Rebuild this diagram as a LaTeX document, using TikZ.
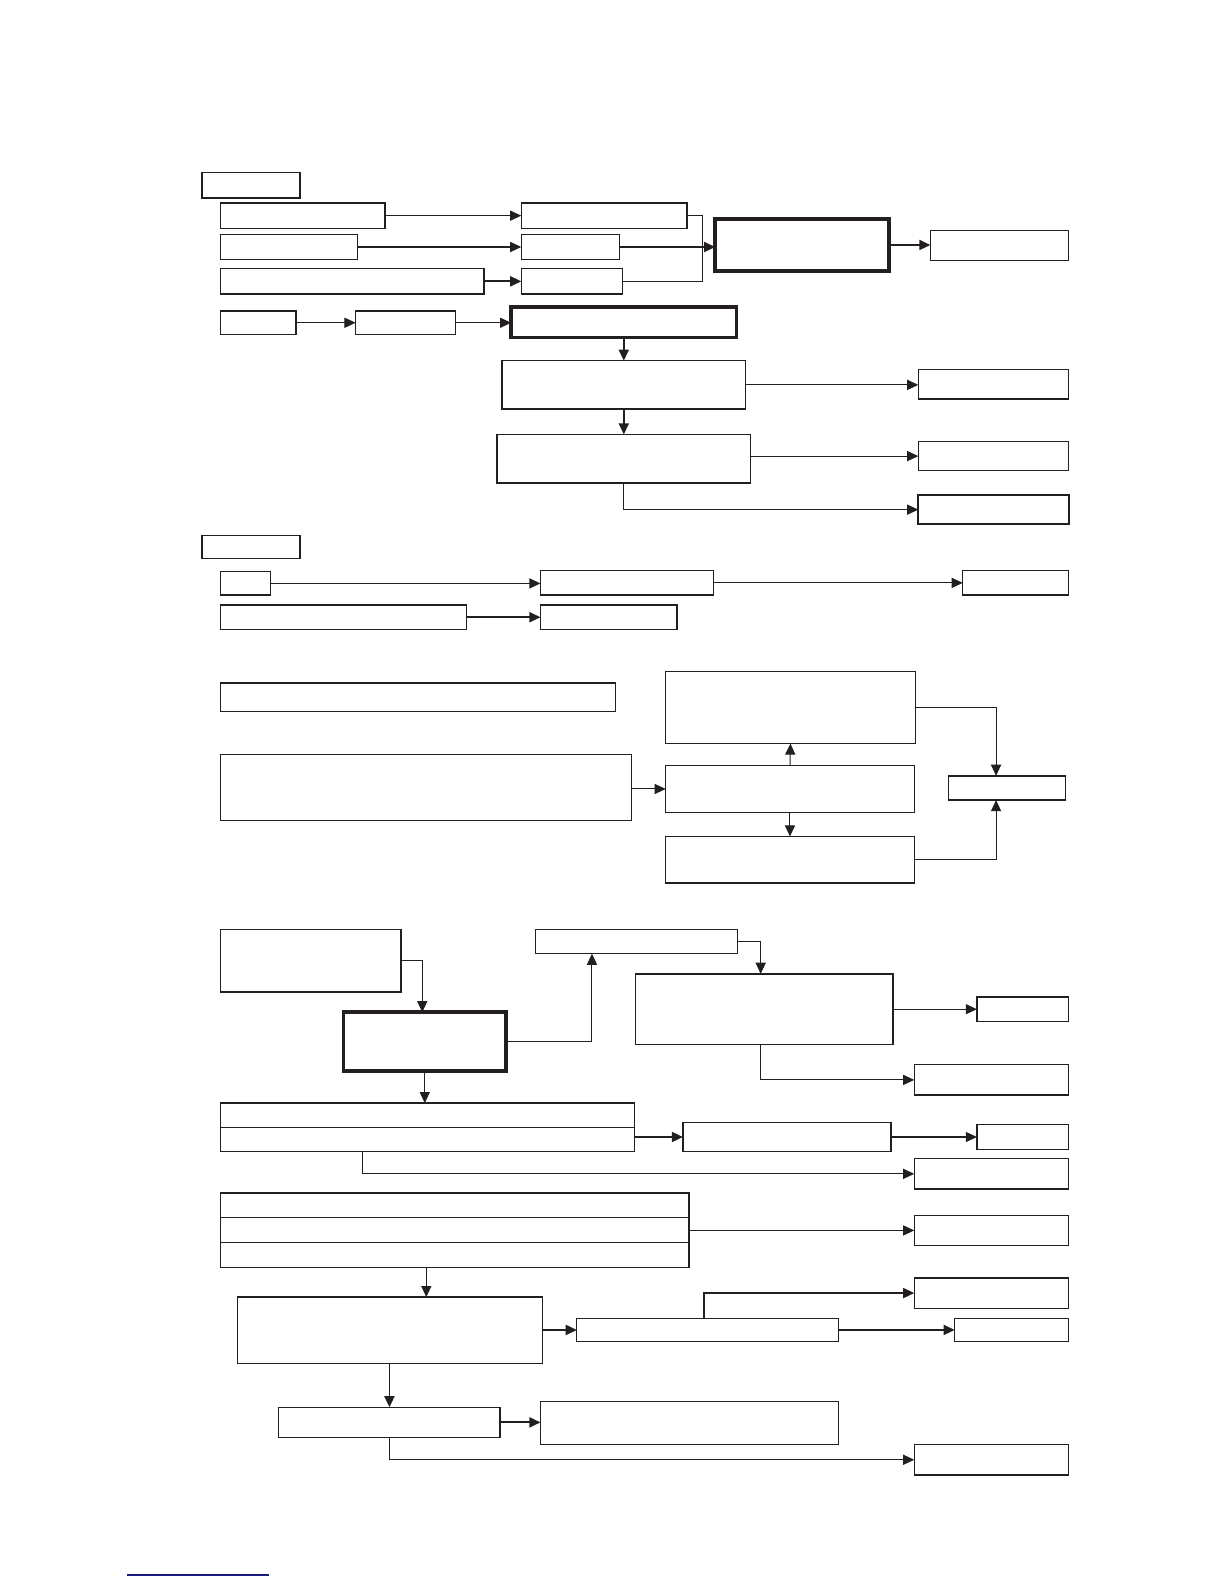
\documentclass[tikz,border=0pt]{standalone}
\usepackage{tikz}
\usetikzlibrary{arrows.meta,positioning,calc}
\definecolor{ink}{HTML}{231F20}
\definecolor{linkblue}{HTML}{1A1A80}

\tikzset{
  cell/.style={draw=ink,line width=1.3pt,fill=white,anchor=north west,
               inner sep=0pt,outer sep=0pt},
  heavy/.style={cell,line width=3.6pt},
  wire/.style={draw=ink,line width=1pt},
  arr/.style={wire,-{Triangle[length=11pt,width=10pt]}},
  fatarr/.style={arr,line width=1.8pt}
}

\begin{document}
\begin{tikzpicture}[x=1pt,y=-1pt]
  \useasboundingbox (0,0) rectangle (1212,1568);

  % first group
  \node[cell,minimum width=97,minimum height=25] (hdA) at (200,171) {};
  \node[cell,minimum width=163,minimum height=25] (a1) at (218,201) {};
  \node[cell,minimum width=164,minimum height=25] (b1) at (516,201) {};
  \node[cell,minimum width=136,minimum height=25] (a2) at (218,232) {};
  \node[cell,minimum width=97,minimum height=25] (b2) at (516,232) {};
  \node[cell,minimum width=261,minimum height=25] (a3) at (218,266) {};
  \node[cell,minimum width=100,minimum height=25] (b3) at (516,266) {};
  \node[heavy,minimum width=172,minimum height=51] (calc) at (708,217) {};
  \node[cell,minimum width=137,minimum height=30] (res) at (921,228) {};
  \node[cell,minimum width=75,minimum height=23] (e1) at (218,308) {};
  \node[cell,minimum width=99,minimum height=23] (e2) at (352,308) {};
  \node[heavy,minimum width=223,minimum height=30] (main) at (506,304) {};
  \node[cell,minimum width=241,minimum height=48] (f1) at (497,357) {};
  \node[cell,minimum width=149,minimum height=29] (g1) at (909,366) {};
  \node[cell,minimum width=251,minimum height=48] (f2) at (492,430) {};
  \node[cell,minimum width=149,minimum height=29] (g2) at (909,437) {};
  \node[cell,line width=1.8pt,minimum width=149,minimum height=29] (g3) at (909,490) {};
  \coordinate (jn) at (695,0);

  \draw[arr] (a1.east) -- (b1.west);
  \draw[arr] (a2.east) -- (b2.west);
  \draw[fatarr] (a3.east) -- (b3.west);
  \draw[wire] (b1.east) -- (b1.east -| jn) -- (b3.east -| jn) -- (b3.east);
  \draw[arr] (b2.east) -- (b2.east -| calc.west);
  \draw[fatarr] (calc.east) -- (calc.east -| res.west);
  \draw[arr] (e1.east) -- (e2.west);
  \draw[arr] (e2.east) -- (e2.east -| main.west);
  \draw[fatarr] (main.south) -- (f1.north);
  \draw[arr] (f1.east) -- (f1.east -| g1.west);
  \draw[fatarr] (f1.south) -- (f2.north);
  \draw[arr] (f2.east |- g2.west) -- (g2.west);
  \draw[arr] (f2.south) |- (g3.west);

  % second group
  \node[cell,minimum width=97,minimum height=23] (hdB) at (200,530) {};
  \node[cell,minimum width=50,minimum height=23] (i1) at (218,566) {};
  \node[cell,minimum width=171,minimum height=24] (j1) at (535,565) {};
  \node[cell,minimum width=105,minimum height=24] (k1) at (953,565) {};
  \node[cell,minimum width=244,minimum height=24] (i2) at (218,599) {};
  \node[cell,minimum width=135,minimum height=24] (j2) at (535,599) {};

  \draw[arr] (i1.east) -- (i1.east -| j1.west);
  \draw[arr] (j1.east) -- (k1.west);
  \draw[fatarr] (i2.east) -- (j2.west);

  % third group
  \node[cell,minimum width=391,minimum height=28] (l1) at (218,676) {};
  \node[cell,minimum width=407,minimum height=65] (l2) at (218,747) {};
  \node[cell,minimum width=247,minimum height=71] (m1) at (659,665) {};
  \node[cell,minimum width=246,minimum height=46] (m2) at (659,758) {};
  \node[cell,minimum width=246,minimum height=46] (m3) at (659,828) {};
  \node[cell,minimum width=116,minimum height=24] (nn) at (939,768) {};
  \coordinate (nIn) at (986,0);

  \draw[arr] (l2.east |- m2.west) -- (m2.west);
  \draw[arr] (m2.north) -- (m1.south);
  \draw[arr] (m2.south) -- (m3.north);
  \draw[arr] (m1.east) -| (nn.north -| nIn);
  \draw[arr] (m3.east) -| (nn.south -| nIn);

  % fourth group
  \node[cell,minimum width=179,minimum height=62] (p1) at (218,920) {};
  \node[heavy,minimum width=161,minimum height=58] (q1) at (340,1002) {};
  \node[cell,minimum width=200,minimum height=24] (r1) at (530,920) {};
  \node[cell,minimum width=255,minimum height=70] (s1) at (629,964) {};
  \node[cell,minimum width=91,minimum height=24] (t1) at (967,987) {};
  \node[cell,minimum width=153,minimum height=30] (t2) at (905,1054) {};
  \node[cell,minimum width=410,minimum height=48] (u1) at (218,1092) {};
  \node[cell,minimum width=206,minimum height=29] (v1) at (676,1111) {};
  \node[cell,minimum width=91,minimum height=25] (w1) at (967,1113) {};
  \node[cell,minimum width=153,minimum height=30] (w2) at (905,1147) {};
  \node[cell,minimum width=464,minimum height=74] (x1) at (218,1181) {};
  \node[cell,minimum width=153,minimum height=30] (y1) at (905,1203) {};
  \node[cell,minimum width=302,minimum height=66] (z1) at (235,1284) {};
  \node[cell,minimum width=259,minimum height=23] (aa) at (571,1305) {};
  \node[cell,minimum width=153,minimum height=30] (ab) at (905,1265) {};
  \node[cell,minimum width=113,minimum height=23] (ac) at (945,1305) {};
  \node[cell,minimum width=219,minimum height=30] (bb) at (276,1393) {};
  \node[cell,minimum width=295,minimum height=43] (cc) at (535,1387) {};
  \node[cell,minimum width=153,minimum height=30] (dd) at (905,1430) {};
  \coordinate (pIn) at (418,0);
  \coordinate (rIn) at (586,0);
  \coordinate (sIn) at (753,0);
  \coordinate (uOut) at (359,0);
  \coordinate (xOut) at (422,0);
  \coordinate (aaOut) at (697,0);

  % row lines inside the long boxes
  \draw[wire] (u1.west) -- (u1.east);
  \draw[wire] ($(x1.north west)!1/3!(x1.south west)$) -- ($(x1.north east)!1/3!(x1.south east)$);
  \draw[wire] ($(x1.north west)!2/3!(x1.south west)$) -- ($(x1.north east)!2/3!(x1.south east)$);

  \draw[arr] (p1.east) -| (q1.north -| pIn);
  \draw[wire,line width=1.6pt] (q1.east) -- (q1.east -| rIn);
  \draw[arr] (q1.east -| rIn) -- (r1.south -| rIn);
  \draw[arr] (r1.east) -| (s1.north -| sIn);
  \draw[arr] (s1.east) -- (s1.east -| t1.west);
  \draw[arr] (s1.south -| sIn) |- (t2.west);
  \draw[arr] (q1.south) -- (q1.south |- u1.north);
  \draw[fatarr] (v1.west -| u1.east) -- (v1.west);
  \draw[arr] (v1.east) -- (v1.east -| w1.west);
  \draw[arr] (u1.south -| uOut) |- (w2.west);
  \draw[arr] (x1.east) -- (x1.east -| y1.west);
  \draw[arr] (x1.south -| xOut) -- (z1.north -| xOut);
  \draw[fatarr] (z1.east |- aa.west) -- (aa.west);
  \draw[fatarr] (aa.north -| aaOut) |- (ab.west);
  \draw[fatarr] (aa.east) -- (ac.west);
  \draw[fatarr] (z1.south -| bb.north) -- (bb.north);
  \draw[fatarr] (bb.east) -- (bb.east -| cc.west);
  \draw[arr] (bb.south) |- (dd.west);

  % link rule at the foot of the page
  \draw[linkblue,line width=1.2pt] (126,1559) -- (266,1559);
\end{tikzpicture}
\end{document}
